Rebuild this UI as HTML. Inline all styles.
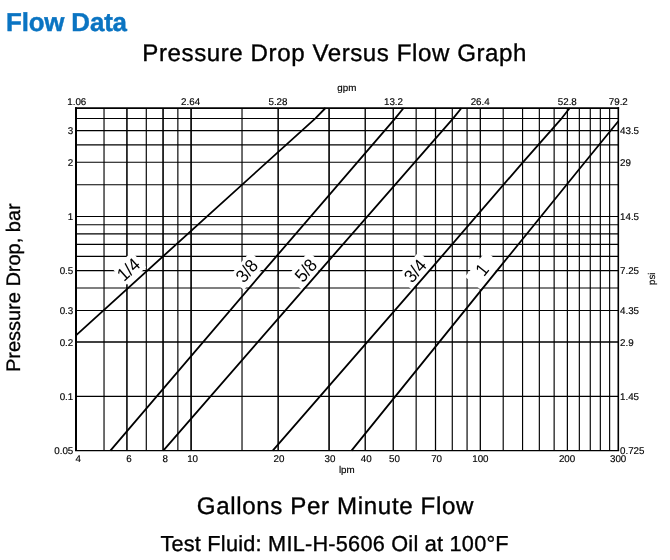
<!DOCTYPE html>
<html><head><meta charset="utf-8"><title>Flow Data</title>
<style>
html,body{margin:0;padding:0;background:#fff;}
body{width:670px;height:560px;overflow:hidden;}
svg{display:block;font-family:"Liberation Sans", sans-serif;text-rendering:geometricPrecision;}
svg text{fill:#000;}
svg text.blue{fill:#0a74c2;stroke:#0a74c2;}
</style></head>
<body>
<svg width="670" height="560" viewBox="0 0 670 560">
<g stroke="#000">
<line x1="76.00" y1="118.53" x2="618.30" y2="118.53" stroke-width="1.1"/>
<line x1="76.00" y1="130.58" x2="618.30" y2="130.58" stroke-width="1.1"/>
<line x1="76.00" y1="144.83" x2="618.30" y2="144.83" stroke-width="1.1"/>
<line x1="76.00" y1="162.27" x2="618.30" y2="162.27" stroke-width="1.1"/>
<line x1="76.00" y1="184.76" x2="618.30" y2="184.76" stroke-width="1.1"/>
<line x1="76.00" y1="216.45" x2="618.30" y2="216.45" stroke-width="1.1"/>
<line x1="76.00" y1="224.69" x2="618.30" y2="224.69" stroke-width="1.1"/>
<line x1="76.00" y1="233.89" x2="618.30" y2="233.89" stroke-width="1.1"/>
<line x1="76.00" y1="244.33" x2="618.30" y2="244.33" stroke-width="1.1"/>
<line x1="76.00" y1="256.38" x2="618.30" y2="256.38" stroke-width="1.1"/>
<line x1="76.00" y1="270.63" x2="618.30" y2="270.63" stroke-width="1.1"/>
<line x1="76.00" y1="288.07" x2="618.30" y2="288.07" stroke-width="1.1"/>
<line x1="76.00" y1="310.55" x2="618.30" y2="310.55" stroke-width="1.1"/>
<line x1="76.00" y1="342.00" x2="618.30" y2="342.00" stroke-width="1.65"/>
<line x1="76.00" y1="396.42" x2="618.30" y2="396.42" stroke-width="1.1"/>
<line x1="104.03" y1="108.10" x2="104.03" y2="450.60" stroke-width="1.15"/>
<line x1="126.93" y1="108.10" x2="126.93" y2="450.60" stroke-width="1.55"/>
<line x1="146.29" y1="108.10" x2="146.29" y2="450.60" stroke-width="1.15"/>
<line x1="163.06" y1="108.10" x2="163.06" y2="450.60" stroke-width="1.6"/>
<line x1="177.86" y1="108.10" x2="177.86" y2="450.60" stroke-width="1.15"/>
<line x1="191.09" y1="108.10" x2="191.09" y2="450.60" stroke-width="1.65"/>
<line x1="242.02" y1="108.10" x2="242.02" y2="450.60" stroke-width="1.15"/>
<line x1="278.15" y1="108.10" x2="278.15" y2="450.60" stroke-width="1.5"/>
<line x1="329.08" y1="108.10" x2="329.08" y2="450.60" stroke-width="1.6"/>
<line x1="365.22" y1="108.10" x2="365.22" y2="450.60" stroke-width="1.35"/>
<line x1="393.25" y1="108.10" x2="393.25" y2="450.60" stroke-width="1.35"/>
<line x1="416.15" y1="108.10" x2="416.15" y2="450.60" stroke-width="1.15"/>
<line x1="435.51" y1="108.10" x2="435.51" y2="450.60" stroke-width="1.25"/>
<line x1="452.28" y1="108.10" x2="452.28" y2="450.60" stroke-width="1.15"/>
<line x1="467.07" y1="108.10" x2="467.07" y2="450.60" stroke-width="1.15"/>
<line x1="480.31" y1="108.10" x2="480.31" y2="450.60" stroke-width="1.3"/>
<line x1="503.21" y1="108.10" x2="503.21" y2="450.60" stroke-width="1.15"/>
<line x1="522.57" y1="108.10" x2="522.57" y2="450.60" stroke-width="1.15"/>
<line x1="539.34" y1="108.10" x2="539.34" y2="450.60" stroke-width="1.15"/>
<line x1="554.14" y1="108.10" x2="554.14" y2="450.60" stroke-width="1.15"/>
<line x1="567.37" y1="108.10" x2="567.37" y2="450.60" stroke-width="1.2"/>
<line x1="579.34" y1="108.10" x2="579.34" y2="450.60" stroke-width="1.15"/>
<line x1="590.27" y1="108.10" x2="590.27" y2="450.60" stroke-width="1.15"/>
<line x1="600.33" y1="108.10" x2="600.33" y2="450.60" stroke-width="1.15"/>
<line x1="609.63" y1="108.10" x2="609.63" y2="450.60" stroke-width="1.15"/>
</g>
<rect transform="translate(129.50,268.25) rotate(-42.34)" x="-13.0" y="-10.5" width="26.0" height="21.0" fill="#fff"/>
<g transform="translate(128.50,269.50) rotate(-42.34)"><text transform="scale(0.92,1)" x="0" y="6.31" text-anchor="middle" font-size="18.3">1/4</text></g>
<rect transform="translate(246.95,270.95) rotate(-49.44)" x="-16.5" y="-10.0" width="33.0" height="20.0" fill="#fff"/>
<g transform="translate(246.80,270.80) rotate(-49.44)"><text transform="scale(0.92,1)" x="0" y="6.31" text-anchor="middle" font-size="18.3">3/8</text></g>
<rect transform="translate(305.20,270.70) rotate(-48.96)" x="-16.5" y="-10.0" width="33.0" height="20.0" fill="#fff"/>
<g transform="translate(305.80,270.30) rotate(-48.96)"><text transform="scale(0.92,1)" x="0" y="6.31" text-anchor="middle" font-size="18.3">5/8</text></g>
<rect transform="translate(415.40,270.95) rotate(-49.07)" x="-16.5" y="-10.0" width="33.0" height="20.0" fill="#fff"/>
<g transform="translate(415.10,270.80) rotate(-49.07)"><text transform="scale(0.92,1)" x="0" y="6.31" text-anchor="middle" font-size="18.3">3/4</text></g>
<rect transform="translate(483.15,270.30) rotate(-50.99)" x="-16.5" y="-10.0" width="33.0" height="20.0" fill="#fff"/>
<g transform="translate(482.10,269.70) rotate(-50.99)"><text transform="scale(0.92,1)" x="0" y="6.31" text-anchor="middle" font-size="18.3">1</text></g>
<path d="M76.00,335.35 L207.10,216.35 L315.40,118.35 L325.50,108.00" fill="none" stroke="#000" stroke-width="1.8" stroke-linejoin="round"/>
<path d="M110.40,450.60 L264.30,270.40 L395.20,118.35 L403.60,108.00" fill="none" stroke="#000" stroke-width="1.8" stroke-linejoin="round"/>
<path d="M163.30,450.60 L320.30,270.30 L453.15,118.35 L461.50,108.00" fill="none" stroke="#000" stroke-width="1.8" stroke-linejoin="round"/>
<path d="M272.75,450.60 L429.65,270.40 L522.85,162.30 L561.70,118.30 L569.80,108.00" fill="none" stroke="#000" stroke-width="1.8" stroke-linejoin="round"/>
<path d="M351.50,450.60 L497.20,270.40 L584.85,162.30 L618.30,121.20" fill="none" stroke="#000" stroke-width="1.8" stroke-linejoin="round"/>
<g stroke="#000"><line x1="75.0" y1="108.10" x2="619.0999999999999" y2="108.10" stroke-width="1.85"/><line x1="75.0" y1="450.5" x2="619.0999999999999" y2="450.5" stroke-width="1.25"/><line x1="76.0" y1="107.20" x2="76.0" y2="451.1" stroke-width="2"/><line x1="618.3" y1="107.20" x2="618.3" y2="451.1" stroke-width="1.6"/></g>
<g font-size="9.8" stroke="#000" stroke-width="0.15">
<text x="73.3" y="134.03" text-anchor="end">3</text>
<text x="73.3" y="165.72" text-anchor="end">2</text>
<text x="73.3" y="219.90" text-anchor="end">1</text>
<text x="73.3" y="274.08" text-anchor="end">0.5</text>
<text x="73.3" y="314.00" text-anchor="end">0.3</text>
<text x="73.3" y="345.70" text-anchor="end">0.2</text>
<text x="73.3" y="399.87" text-anchor="end">0.1</text>
<text x="73.3" y="454.05" text-anchor="end">0.05</text>
<text x="620.0" y="134.03">43.5</text>
<text x="620.0" y="165.72">29</text>
<text x="620.0" y="219.90">14.5</text>
<text x="620.0" y="274.08">7.25</text>
<text x="620.0" y="314.00">4.35</text>
<text x="620.0" y="345.70">2.9</text>
<text x="620.0" y="399.87">1.45</text>
<text x="620.0" y="454.05">0.725</text>
<text x="76.80" y="105.2" text-anchor="middle">1.06</text>
<text x="190.60" y="105.2" text-anchor="middle">2.64</text>
<text x="278.00" y="105.2" text-anchor="middle">5.28</text>
<text x="393.50" y="105.2" text-anchor="middle">13.2</text>
<text x="480.20" y="105.2" text-anchor="middle">26.4</text>
<text x="567.30" y="105.2" text-anchor="middle">52.8</text>
<text x="618.30" y="105.2" text-anchor="middle">79.2</text>
<text x="78.30" y="462.2" text-anchor="middle">4</text>
<text x="129.10" y="462.2" text-anchor="middle">6</text>
<text x="165.35" y="462.2" text-anchor="middle">8</text>
<text x="192.60" y="462.2" text-anchor="middle">10</text>
<text x="279.05" y="462.2" text-anchor="middle">20</text>
<text x="330.05" y="462.2" text-anchor="middle">30</text>
<text x="366.25" y="462.2" text-anchor="middle">40</text>
<text x="394.55" y="462.2" text-anchor="middle">50</text>
<text x="436.60" y="462.2" text-anchor="middle">70</text>
<text x="480.40" y="462.2" text-anchor="middle">100</text>
<text x="567.10" y="462.2" text-anchor="middle">200</text>
<text x="618.15" y="462.2" text-anchor="middle">300</text>
<text x="346.8" y="473" text-anchor="middle">lpm</text>
<text x="346.8" y="91" text-anchor="middle">gpm</text>
<text transform="translate(654.5,278.8) rotate(-90)" text-anchor="middle">psi</text>
</g>
<text transform="translate(20.10,287.70) rotate(-90)" text-anchor="middle" font-size="19.6" textLength="168.80" lengthAdjust="spacingAndGlyphs" stroke="#000" stroke-width="0.3">Pressure Drop, bar</text>
<text x="6.00" y="31.00" font-size="25.90" textLength="121.00" lengthAdjust="spacing" stroke="#000" stroke-width="0.45" font-weight="bold" class="blue">Flow Data</text>
<text x="142.36" y="60.75" font-size="24.10" textLength="384.04" lengthAdjust="spacing" stroke="#000" stroke-width="0.35">Pressure Drop Versus Flow Graph</text>
<text x="196.80" y="513.90" font-size="24.10" textLength="276.60" lengthAdjust="spacing" stroke="#000" stroke-width="0.35">Gallons Per Minute Flow</text>
<text x="160.40" y="550.90" font-size="21.70" textLength="348.20" lengthAdjust="spacing" stroke="#000" stroke-width="0.35">Test Fluid: MIL-H-5606 Oil at 100°F</text>
</svg>
</body></html>
